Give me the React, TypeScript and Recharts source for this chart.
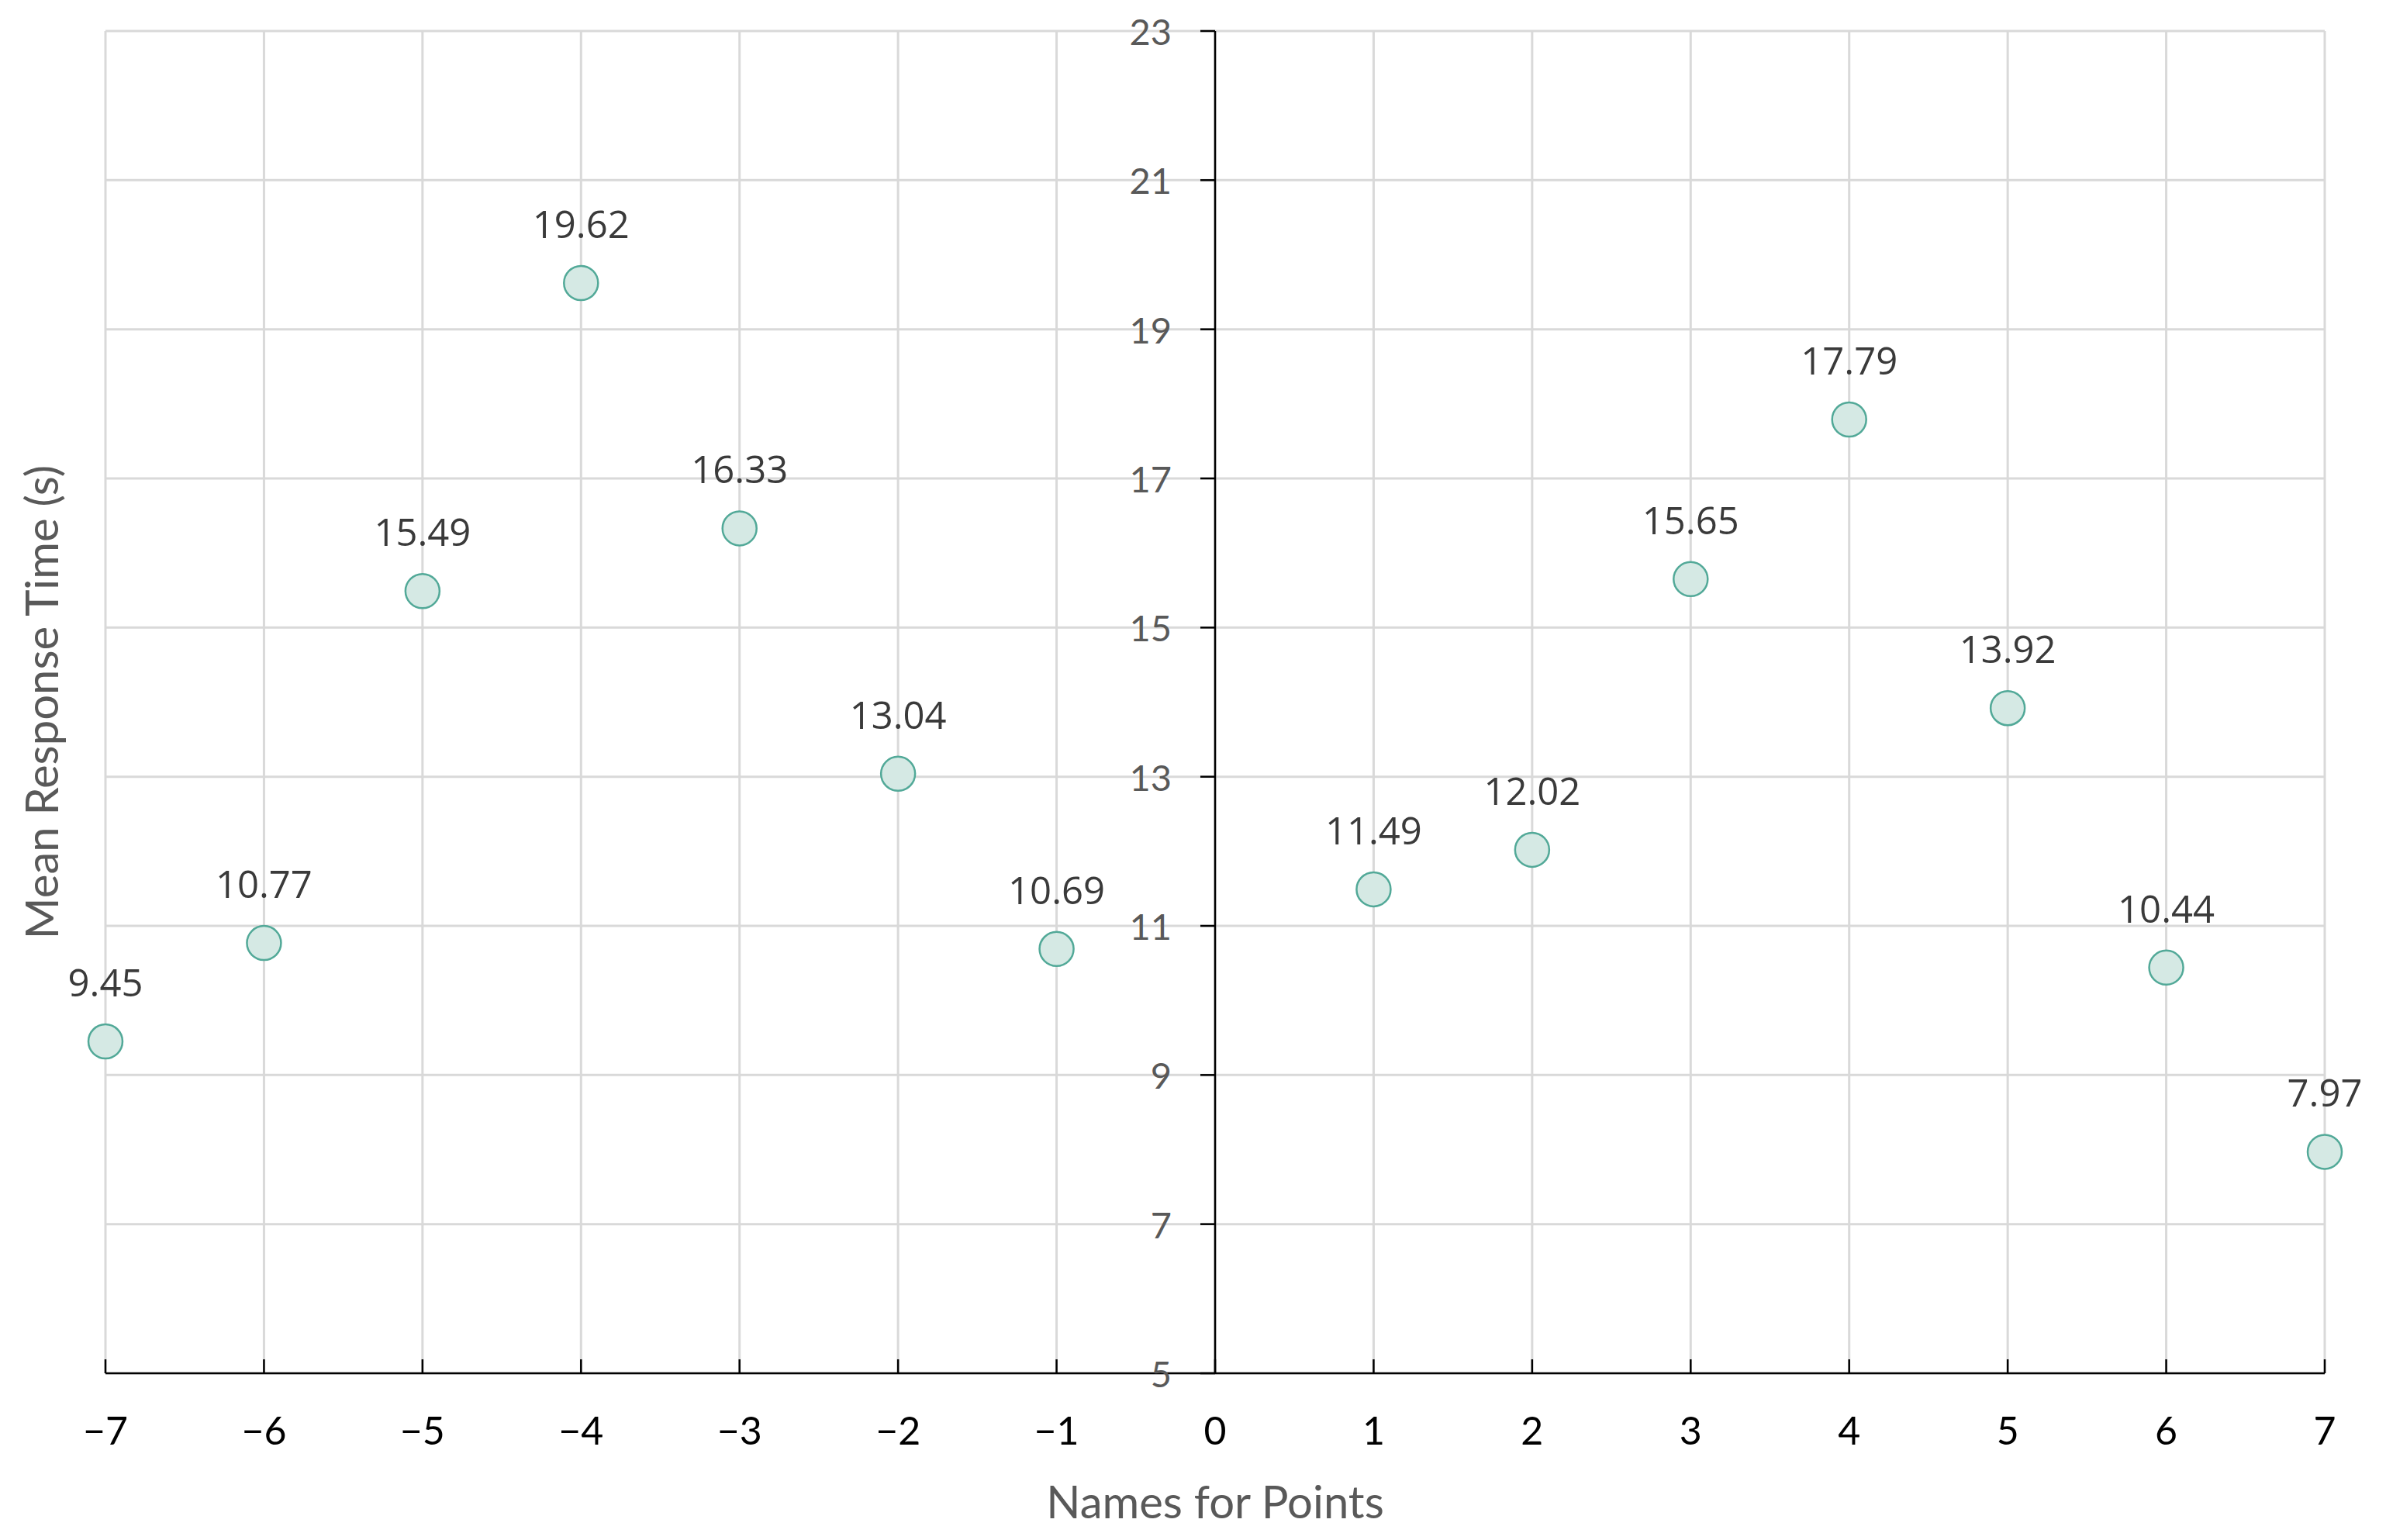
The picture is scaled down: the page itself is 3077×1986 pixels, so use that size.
import React from "react";
import {
  ScatterChart,
  Scatter,
  XAxis,
  YAxis,
  CartesianGrid,
  ReferenceLine,
  LabelList,
} from "recharts";

const pointNames = [-7, -6, -5, -4, -3, -2, -1, 1, 2, 3, 4, 5, 6, 7];
const responseTimes = [9.45, 10.77, 15.49, 19.62, 16.33, 13.04, 10.69, 11.49, 12.02, 15.65, 17.79, 13.92, 10.44, 7.97];
const xTicks = [-7, -6, -5, -4, -3, -2, -1, 0, 1, 2, 3, 4, 5, 6, 7];
const yTicks = [5, 7, 9, 11, 13, 15, 17, 19, 21, 23];

const data = pointNames.map((x, i) => ({ x, y: responseTimes[i] }));
const yTickData = yTicks.map((v) => ({ x: 0, y: v }));

const TICK_FONT = "Lato, 'Open Sans', sans-serif";
const LABEL_FONT = "'Open Sans', 'Noto Sans', sans-serif";

const YTickShape = (props: any) => {
  const { cx, cy, payload } = props;
  return (
    <g>
      <line x1={cx - 19} y1={cy} x2={cx} y2={cy} stroke="#000" strokeWidth={2.5} />
      <text
        x={cx - 56}
        y={cy}
        textAnchor="end"
        dominantBaseline="central"
        fontFamily={TICK_FONT}
        fontSize={47}
        fill="#595959"
      >
        {payload.y}
      </text>
    </g>
  );
};

const PointShape = (props: any) => {
  const { cx, cy } = props;
  return <circle cx={cx} cy={cy} r={22} fill="#d5e9e4" stroke="#52a998" strokeWidth={2.5} />;
};

const PointLabel = (props: any) => {
  const { x, y, width, height, value } = props;
  const cx = x + width / 2;
  const cy = y + height / 2;
  return (
    <text
      x={cx}
      y={cy - 58}
      textAnchor="middle"
      fontFamily={LABEL_FONT}
      fontSize={49}
      fill="#3a3a3a"
    >
      {Number(value).toFixed(2)}
    </text>
  );
};

const fmtX = (v: number) => (v < 0 ? `\u2212${-v}` : `${v}`);

export default function App() {
  return (
    <div style={{ width: 3061, height: 1970, background: "#fff" }}>
      <ScatterChart
        width={3061}
        height={1970}
        margin={{ top: 32, right: 71, bottom: 177, left: 0 }}
      >
        <CartesianGrid stroke="#d9d9d9" strokeWidth={3} />
        <XAxis
          type="number"
          dataKey="x"
          domain={[-7, 7]}
          ticks={xTicks}
          interval={0}
          height={30}
          tickFormatter={fmtX}
          axisLine={{ stroke: "#000", strokeWidth: 2.5 }}
          tickLine={{ stroke: "#000", strokeWidth: 2.5 }}
          tickSize={-18}
          tickMargin={74}
          tick={{ fill: "#000", fontFamily: TICK_FONT, fontSize: 50 }}
          label={{
            content: (p: any) => {
              const vb = p.viewBox;
              return (
                <text
                  x={vb.x + vb.width / 2}
                  y={vb.y + 187}
                  textAnchor="middle"
                  fontFamily={TICK_FONT}
                  fontSize={58}
                  fill="#595959"
                >
                  Names for Points
                </text>
              );
            },
          }}
        />
        <YAxis
          type="number"
          dataKey="y"
          domain={[5, 23]}
          ticks={yTicks}
          interval={0}
          width={128}
          axisLine={false}
          tickLine={false}
          tick={() => <g />}
          label={{
            content: (p: any) => {
              const vb = p.viewBox;
              const cx = vb.x + 44;
              const cy = vb.y + vb.height / 2;
              return (
                <text
                  x={cx}
                  y={cy}
                  textAnchor="middle"
                  dominantBaseline="central"
                  transform={`rotate(-90 ${cx} ${cy})`}
                  fontFamily={TICK_FONT}
                  fontSize={58}
                  fill="#595959"
                >
                  Mean Response Time (s)
                </text>
              );
            },
          }}
        />
        <ReferenceLine x={0} stroke="#000" strokeWidth={2.5} />
        <Scatter data={yTickData} shape={YTickShape} isAnimationActive={false} />
        <Scatter data={data} shape={PointShape} isAnimationActive={false}>
          <LabelList dataKey="y" content={PointLabel} />
        </Scatter>
      </ScatterChart>
    </div>
  );
}
